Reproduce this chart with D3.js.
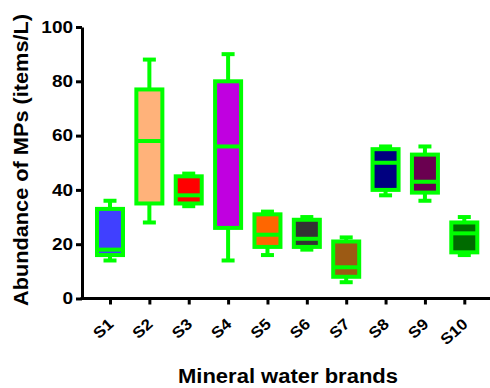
<!DOCTYPE html>
<html>
<head>
<meta charset="utf-8">
<script src="https://cdn.jsdelivr.net/npm/d3@7"></script>
<style>
  html, body { margin: 0; padding: 0; background: #fff; }
  svg { display: block; font-family: Arial, "Liberation Sans", sans-serif; }
</style>
</head>
<body>
<svg id="chart" width="490" height="388"></svg>
<script>
// Microplastic abundance per mineral water brand (items/L)
const brands  = ["S1", "S2", "S3", "S4", "S5", "S6", "S7", "S8", "S9", "S10"];
const mins    = [14, 28, 34, 14, 16, 18, 6, 38, 36, 16];
const q1s     = [16, 35, 35, 26, 19, 19, 8, 40, 39, 17];
const medians = [18, 58, 38, 56, 23.5, 22, 11.5, 50, 43, 24];
const q3s     = [33, 77, 45, 80, 31, 29, 21, 55, 53, 28];
const maxs    = [36, 88, 46, 90, 32, 30, 22.5, 56, 56, 30];
const fills   = ["#4040ff", "#ffb27a", "#ff0000", "#c000e0", "#ff6600",
                 "#333333", "#9c5a14", "#000080", "#6a0050", "#006b00"];
const yTicks  = [0, 20, 40, 60, 80, 100];

const outline = "#00ff00";
const fontFamily = "Arial, 'Liberation Sans', sans-serif";
const svg = d3.select("#chart");

// widen bold text horizontally by a factor
function widen(sel, k) {
  sel.each(function () {
    const w = this.getComputedTextLength();
    d3.select(this).attr("textLength", w * k).attr("lengthAdjust", "spacingAndGlyphs");
  });
}

const x = d3.scalePoint().domain(brands).range([110, 464.3]);
const y = d3.scaleLinear().domain([0, 100]).range([298.5, 27]);

const rows = brands.map((b, i) => ({
  b, min: mins[i], q1: q1s[i], med: medians[i], q3: q3s[i], max: maxs[i], fill: fills[i]
}));

const boxW = 26, capW = 13, sw = 4;

const box = svg.append("g").selectAll("g.box").data(rows).join("g").attr("class", "box");

// whiskers
box.append("line")
  .attr("x1", d => x(d.b)).attr("x2", d => x(d.b))
  .attr("y1", d => y(d.q3)).attr("y2", d => y(d.max))
  .attr("stroke", outline).attr("stroke-width", sw);
box.append("line")
  .attr("x1", d => x(d.b)).attr("x2", d => x(d.b))
  .attr("y1", d => y(d.q1)).attr("y2", d => y(d.min))
  .attr("stroke", outline).attr("stroke-width", sw);
// caps
box.append("line")
  .attr("x1", d => x(d.b) - capW / 2).attr("x2", d => x(d.b) + capW / 2)
  .attr("y1", d => y(d.max)).attr("y2", d => y(d.max))
  .attr("stroke", outline).attr("stroke-width", sw);
box.append("line")
  .attr("x1", d => x(d.b) - capW / 2).attr("x2", d => x(d.b) + capW / 2)
  .attr("y1", d => y(d.min)).attr("y2", d => y(d.min))
  .attr("stroke", outline).attr("stroke-width", sw);
// boxes
box.append("rect")
  .attr("x", d => x(d.b) - boxW / 2).attr("width", boxW)
  .attr("y", d => y(d.q3)).attr("height", d => y(d.q1) - y(d.q3))
  .attr("fill", d => d.fill)
  .attr("stroke", outline).attr("stroke-width", sw);
// medians
box.append("line")
  .attr("x1", d => x(d.b) - boxW / 2).attr("x2", d => x(d.b) + boxW / 2)
  .attr("y1", d => y(d.med)).attr("y2", d => y(d.med))
  .attr("stroke", outline).attr("stroke-width", sw);

// y axis
const yAxis = svg.append("g").attr("transform", "translate(82,0)")
  .call(d3.axisLeft(y).tickValues(yTicks).tickSize(6).tickSizeOuter(0).tickPadding(3));
yAxis.select(".domain").attr("stroke", "#000").attr("stroke-width", 3);
yAxis.selectAll(".tick line").attr("stroke", "#000").attr("stroke-width", 3);
yAxis.selectAll(".tick text")
  .attr("font-size", 16.5).attr("font-weight", "bold").attr("fill", "#000")
  .attr("font-family", fontFamily)
  .call(widen, 1.15);

// x axis
const xAxis = svg.append("g").attr("transform", "translate(0,298.5)")
  .call(d3.axisBottom(x).tickSize(6).tickSizeOuter(0));
xAxis.select(".domain").remove();
xAxis.append("line")
  .attr("x1", 80.5).attr("x2", 490).attr("y1", 0).attr("y2", 0)
  .attr("stroke", "#000").attr("stroke-width", 3);
xAxis.selectAll(".tick line").attr("stroke", "#000").attr("stroke-width", 3);
xAxis.selectAll(".tick text")
  .attr("font-size", 15.5).attr("font-weight", "bold").attr("fill", "#000")
  .attr("font-family", fontFamily)
  .attr("text-anchor", "end")
  .attr("x", 0).attr("y", 0).attr("dy", 0)
  .attr("transform", "translate(4,27) rotate(-42)")
  .call(widen, 1.1);

// axis titles
svg.append("text")
  .attr("transform", "translate(28,160) rotate(-90)")
  .attr("text-anchor", "middle")
  .attr("font-size", 20).attr("font-weight", "bold").attr("fill", "#000")
  .attr("font-family", fontFamily)
  .attr("textLength", 292).attr("lengthAdjust", "spacingAndGlyphs")
  .text("Abundance of MPs (items/L)");

svg.append("text")
  .attr("x", 288).attr("y", 382.5)
  .attr("text-anchor", "middle")
  .attr("font-size", 20).attr("font-weight", "bold").attr("fill", "#000")
  .attr("font-family", fontFamily)
  .attr("textLength", 220).attr("lengthAdjust", "spacingAndGlyphs")
  .text("Mineral water brands");
</script>
</body>
</html>
